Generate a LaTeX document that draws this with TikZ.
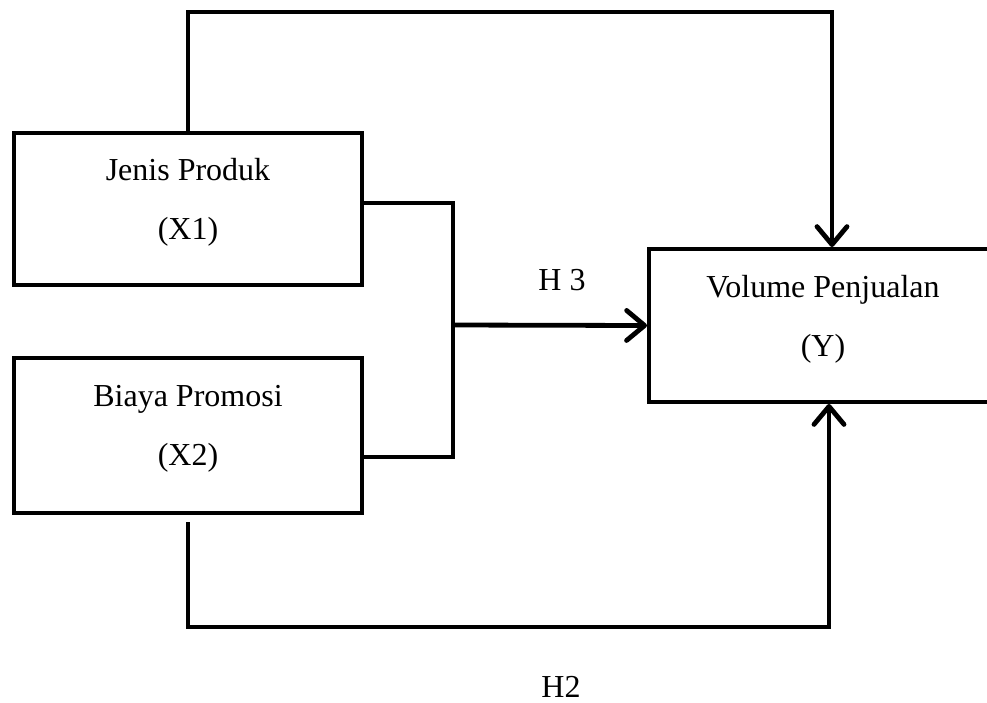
\documentclass[tikz,border=0pt]{standalone}
\usepackage{fontspec}
\setmainfont{Liberation Serif}
\usetikzlibrary{arrows.meta}
\begin{document}
\begin{tikzpicture}[x=1pt,y=-1pt,
  box/.style={draw,line width=4pt,minimum width=348pt,inner sep=0pt},
  txt/.style={align=center,inner sep=0pt,font=\fontsize{32}{59}\selectfont},
  conn/.style={line width=4.8pt},
  arr/.style={conn,-{Straight Barb[length=18pt,width=30pt,line cap=round,line join=round]}},
  lbl/.style={font=\fontsize{32}{38}\selectfont,anchor=base,inner sep=0pt}]
\useasboundingbox (0,0) rectangle (987,702);
\node[box,minimum height=152pt,label={[txt,yshift=7pt]center:{Jenis Produk\\(X1)}}] (x1) at (188,209) {};
\node[box,minimum height=155pt,label={[txt,yshift=7pt]center:{Biaya Promosi\\(X2)}}] (x2) at (188,435.5) {};
\node[box,minimum height=153pt,label={[txt,yshift=6pt]center:{Volume Penjualan\\(Y)}}] (y) at (823,325.5) {};
\coordinate (j) at (453,325);
\coordinate (t1) at (188,12);
\coordinate (t2) at (832,12);
\coordinate (b1) at (188,627);
\coordinate (b2) at (829,627);
\draw[conn,line join=miter] ([yshift=6pt]x1.east) -| (j |- 0,457) -- ([yshift=-21.5pt]x2.east);
\draw[arr] (j) -- (y.west);
\draw[arr,line join=miter] (x1.north) -- (t1) -- (t2) -- (t2 |- y.north);
\draw[arr,line join=miter] ([yshift=-7pt]x2.south) -- (b1) -- (b2) -- (b2 |- y.south);
\node[lbl] (h3) at (562,290) {H 3};
\node[lbl] (h2) at (561,697) {H2};
\end{tikzpicture}
\end{document}
